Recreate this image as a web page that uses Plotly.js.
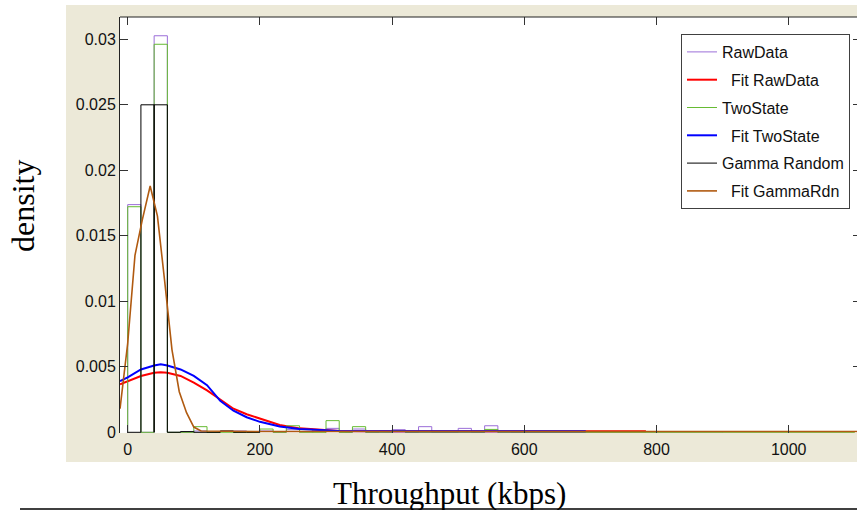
<!DOCTYPE html>
<html>
<head>
<meta charset="utf-8">
<script src="https://cdn.plot.ly/plotly-3.0.1.min.js"></script>
<style>
html,body{margin:0;padding:0;overflow:hidden;background:#fff;}
#chart{width:864px;height:510px;}
</style>
</head>
<body>
<div id="chart"></div>
<script>
// ---------------- data ----------------
const binWidth = 20;
// RawData histogram (left bin edges, density)
const rawEdges   = [0, 20, 40, 60, 80, 100, 120, 140, 160, 180, 200, 220, 240, 260, 280, 300, 320, 340, 360, 380, 400, 420, 440, 460, 480, 500, 520, 540, 560, 580, 640, 740, 820, 880];
const rawDensity = [0.01738, 0, 0.03027, 0, 0.00005, 0.0001, 0, 0.0001, 0.0001, 0, 0.0001, 0, 0.0002, 0.00025, 0.0001, 0.0003, 0, 0.00025, 0, 0.0001, 0.0002, 0, 0.00043, 0, 0, 0.0003, 0, 0.0005, 0.00005, 0, 0.00005, 0.00005, 0.00005, 0.00005];
// TwoState histogram
const twoEdges   = [0, 20, 40, 60, 80, 100, 120, 200, 220, 240, 260, 300, 320, 340, 360, 400, 420, 540, 560, 1080];
const twoDensity = [0.01722, 0, 0.02962, 0, 0, 0.00043, 0, 0.00025, 0, 0.0005, 0, 0.00089, 0, 0.00043, 0, 0.0001, 0, 0.00022, 0, 0];
// Gamma Random histogram
const gamEdges   = [0, 20, 40, 60, 80, 140, 180];
const gamDensity = [0, 0.025, 0.025, 0, 0.00005, 0.0001, 0];

// Fit RawData curve
const fitRawX = [-11.6, 0, 20, 40, 50, 60, 80, 100, 120, 140, 160, 180, 200, 230, 260, 290, 320, 400, 500, 600, 700, 784];
const fitRawY = [0.00366, 0.0039, 0.0043, 0.00455, 0.00458, 0.00455, 0.0043, 0.0038, 0.0032, 0.0025, 0.0018, 0.00138, 0.00107, 0.00056, 0.0003, 0.00018, 0.0001, 0.00008, 0.00008, 0.00008, 0.00008, 0.00008];
// Fit TwoState curve
const fitTwoX = [-11.6, 0, 20, 40, 50, 60, 80, 100, 120, 130, 140, 160, 180, 200, 230, 260, 290, 320, 400, 500, 600, 693];
const fitTwoY = [0.0039, 0.0042, 0.0048, 0.0051, 0.00519, 0.0051, 0.0048, 0.0043, 0.0036, 0.0030, 0.0024, 0.00165, 0.00115, 0.0008, 0.00045, 0.00025, 0.00015, 0.0001, 0.00008, 0.00008, 0.00008, 0.00008];
// Fit GammaRdn curve
const fitGamX = [-11.6, 0, 11, 22, 34, 45, 56, 67, 78, 89, 100, 111, 200, 400, 600, 800, 1000, 1110];
const fitGamY = [0.0018, 0.0068, 0.0135, 0.0162, 0.0188, 0.0165, 0.0115, 0.0063, 0.0031, 0.0015, 0.0004, 0.0001, 0.00006, 0.00006, 0.00006, 0.00006, 0.00006, 0.00006];

const seriesNames = ['RawData', '\u00a0\u00a0Fit RawData', 'TwoState', '\u00a0\u00a0Fit TwoState', 'Gamma Random', '\u00a0\u00a0Fit GammaRdn'];
const xTickVals = [0, 200, 400, 600, 800, 1000];
const yTickVals = [0, 0.005, 0.01, 0.015, 0.02, 0.025, 0.03];

// ---------------- helpers ----------------
function stairs(edges, dens, w) {
  const xs = [], ys = [];
  for (let i = 0; i < edges.length; i++) {
    const e = edges[i], h = dens[i];
    xs.push(e, e, e + w, e + w);
    ys.push(0, h, h, 0);
  }
  return {x: xs, y: ys};
}
const W = 864, H = 510, ML = 120, MR = 3, MT = 17, MB = 77;
const PW = W - ML - MR, PH = H - MT - MB;
const px = v => (v - ML) / PW;
const py = v => (H - MB - v) / PH;

const raw = stairs(rawEdges, rawDensity, binWidth);
const two = stairs(twoEdges, twoDensity, binWidth);
const gam = stairs(gamEdges, gamDensity, binWidth);

const traces = [
  {x: raw.x, y: raw.y, name: seriesNames[0], mode: 'lines', line: {color: '#9b6ed8', width: 1}, legendgroup: 'a'},
  {x: fitRawX, y: fitRawY, name: seriesNames[1], mode: 'lines', line: {color: '#ff0000', width: 2}, legendgroup: 'b'},
  {x: two.x, y: two.y, name: seriesNames[2], mode: 'lines', line: {color: '#66bb33', width: 1}, legendgroup: 'c'},
  {x: fitTwoX, y: fitTwoY, name: seriesNames[3], mode: 'lines', line: {color: '#0000ff', width: 2}, legendgroup: 'd'},
  {x: gam.x, y: gam.y, name: seriesNames[4], mode: 'lines', line: {color: '#000000', width: 1}, legendgroup: 'e'},
  {x: fitGamX, y: fitGamY, name: seriesNames[5], mode: 'lines', line: {color: '#b05a10', width: 1.6}, legendgroup: 'f'}
];

const yPerPx = 0.005 / 65.5;
const layout = {
  width: W, height: H,
  margin: {l: ML, r: MR, t: MT, b: MB, pad: 0},
  paper_bgcolor: '#ffffff',
  plot_bgcolor: '#ffffff',
  showlegend: true,
  legend: {
    x: px(681), y: py(34), xanchor: 'left', yanchor: 'top',
    bgcolor: '#ffffff', bordercolor: '#404040', borderwidth: 1,
    font: {family: 'Liberation Sans, Arial, sans-serif', size: 16, color: '#111'},
    traceorder: 'grouped', tracegroupgap: 4
  },
  xaxis: {
    range: [-11.65, -11.65 + PW / 0.661],
    tickvals: xTickVals, ticktext: xTickVals.map(String),
    ticks: 'inside', ticklen: 8, tickcolor: '#333', tickwidth: 1,
    mirror: 'ticks', showline: false, showgrid: false, zeroline: false,
    ticklabelstandoff: 5,
    tickfont: {family: 'Liberation Sans, Arial, sans-serif', size: 16, color: '#111'}
  },
  yaxis: {
    range: [-0.7 * yPerPx, -0.7 * yPerPx + PH * yPerPx],
    tickvals: yTickVals, ticktext: yTickVals.map(String),
    ticks: 'inside', ticklen: 8, tickcolor: '#333', tickwidth: 1,
    mirror: 'ticks', showline: true, linecolor: '#222', linewidth: 1,
    showgrid: false, zeroline: false,
    tickfont: {family: 'Liberation Sans, Arial, sans-serif', size: 16, color: '#111'}
  },
  shapes: [
    {type: 'rect', xref: 'paper', yref: 'paper', x0: px(66), x1: px(870), y0: py(462), y1: py(5), fillcolor: '#ECE9D8', line: {width: 0}, layer: 'below'},
    {type: 'rect', xref: 'paper', yref: 'paper', x0: 0, x1: 1, y0: 0, y1: 1, fillcolor: '#ffffff', line: {width: 0}, layer: 'below'},
    {type: 'line', xref: 'paper', yref: 'paper', x0: 0, x1: 1, y0: 1, y1: 1, line: {color: '#222', width: 1}},
    {type: 'line', xref: 'paper', yref: 'paper', x0: px(20), x1: px(870), y0: py(509), y1: py(509), line: {color: '#000', width: 1.6}}
  ],
  annotations: [
    {text: 'Throughput (kbps)', xref: 'paper', yref: 'paper', x: px(449), y: py(493), xanchor: 'center', yanchor: 'middle', showarrow: false,
     font: {family: 'Liberation Serif, Times New Roman, serif', size: 31, color: '#000'}},
    {text: 'density', xref: 'paper', yref: 'paper', x: px(23), y: py(206), xanchor: 'center', yanchor: 'middle', showarrow: false, textangle: -90,
     font: {family: 'Liberation Serif, Times New Roman, serif', size: 32, color: '#000'}}
  ]
};

Plotly.newPlot('chart', traces, layout, {displayModeBar: false, staticPlot: true});
</script>
</body>
</html>
